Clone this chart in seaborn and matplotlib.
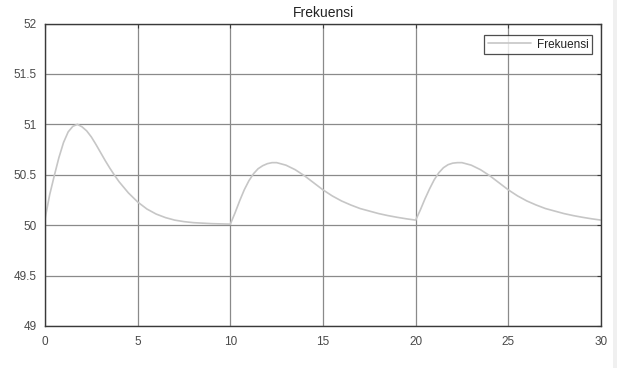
import matplotlib
matplotlib.use("Agg")
import matplotlib.pyplot as plt
import seaborn as sns
import pandas as pd
from matplotlib.patches import Rectangle

time_s = [0, 0.25, 0.5, 0.75, 1.0, 1.25, 1.5, 1.75, 2.0, 2.25, 2.5, 2.75, 3.0, 3.25, 3.5, 3.75,
          4.0, 4.5, 5.0, 5.5, 6.0, 6.5, 7.0, 7.5, 8.0, 9.0, 10.0,
          10.25, 10.5, 10.75, 11.0, 11.25, 11.5, 11.75, 12.0, 12.25, 12.5, 13.0, 13.5,
          14.0, 14.5, 15.0, 15.5, 16.0, 16.5, 17.0, 17.5, 18.0, 18.5, 19.0, 19.5, 20.0,
          20.25, 20.5, 20.75, 21.0, 21.25, 21.5, 21.75, 22.0, 22.25, 22.5, 23.0, 23.5,
          24.0, 24.5, 25.0, 25.5, 26.0, 26.5, 27.0, 27.5, 28.0, 28.5, 29.0, 29.5, 30.0]
frekuensi = [50.06, 50.30, 50.49, 50.67, 50.82, 50.925, 50.98, 51.00, 50.975, 50.935, 50.875,
             50.80, 50.72, 50.64, 50.565, 50.495, 50.43, 50.32, 50.23, 50.16, 50.11, 50.075,
             50.05, 50.035, 50.025, 50.015, 50.01,
             50.12, 50.24, 50.35, 50.44, 50.51, 50.56, 50.59, 50.61, 50.62, 50.62, 50.595,
             50.55, 50.49, 50.42, 50.35, 50.29, 50.24, 50.20, 50.165, 50.14, 50.115, 50.095,
             50.078, 50.063, 50.05,
             50.15, 50.26, 50.36, 50.45, 50.52, 50.57, 50.60, 50.615, 50.62, 50.62, 50.595,
             50.55, 50.49, 50.42, 50.35, 50.29, 50.24, 50.20, 50.165, 50.14, 50.115, 50.095,
             50.078, 50.063, 50.05]
x_ticks = [0, 5, 10, 15, 20, 25, 30]
y_ticks = [49, 49.5, 50, 50.5, 51, 51.5, 52]
y_labels = ["49", "49.5", "50", "50.5", "51", "51.5", "52"]

sns.set_theme(style="white")
plt.rcParams['font.family'] = ['Liberation Sans', 'DejaVu Sans']

df = pd.DataFrame({"t": time_s, "f": frekuensi})

fig = plt.figure(figsize=(6.17, 3.68), dpi=100)
fig.patch.set_facecolor("white")
fig.patches.append(Rectangle((613 / 617, 0), 4 / 617, 1, transform=fig.transFigure,
                             facecolor="#f0f0f0", edgecolor="none", zorder=0))
ax = fig.add_axes([45 / 617, 1 - 326 / 368, (601 - 45) / 617, (326 - 23.5) / 368])

sns.lineplot(data=df, x="t", y="f", ax=ax, color="#c6c6c6", linewidth=1.2,
             estimator=None, sort=False, label="Frekuensi")

ax.set_xlim(0, 30)
ax.set_ylim(49, 52)
ax.set_xticks(x_ticks)
ax.set_yticks(y_ticks)
ax.set_yticklabels(y_labels)
ax.set_xlabel("")
ax.set_ylabel("")
ax.grid(True, color="#8a8a8a", linewidth=0.9)
ax.set_axisbelow(True)
for s in ax.spines.values():
    s.set_color("#3a3a3a")
    s.set_linewidth(1.0)
ax.tick_params(axis="both", direction="in", length=3, width=0.8, color="#3a3a3a",
               labelsize=8.5, labelcolor="#4a4a4a", top=True, right=True)
ax.tick_params(axis="x", pad=7)
ax.tick_params(axis="y", pad=6)
ax.set_title("Frekuensi", fontsize=10, color="#222222", pad=5)

leg = ax.legend(loc="upper right", frameon=True, fancybox=False, fontsize=8.5,
                edgecolor="#222222", handlelength=3.7, handletextpad=0.45,
                borderpad=0.3, borderaxespad=0,
                bbox_to_anchor=((592 - 45) / 556, (326 - 35) / 302.5))
leg.get_frame().set_linewidth(0.9)
for t in leg.get_texts():
    t.set_color("#222222")

fig.savefig("out.png", dpi=100)
